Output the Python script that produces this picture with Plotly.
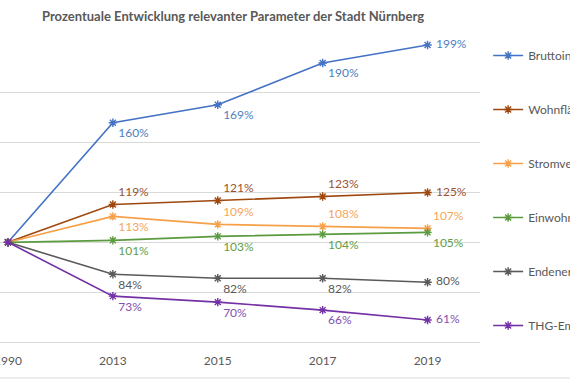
import plotly.graph_objects as go

years = ["1990", "2013", "2015", "2017", "2019"]
series_names = ["Bruttoinlandsprodukt", "Wohnfläche", "Stromverbrauch",
                "Einwohner", "Endenergieverbrauch", "THG-Emissionen"]
bip = [100, 160, 169, 190, 199]
wohnflaeche = [100, 119, 121, 123, 125]
strom = [100, 113, 109, 108, 107]
einwohner = [100, 101, 103, 104, 105]
endenergie = [100, 84, 82, 82, 80]
thg = [100, 73, 70, 66, 61]

values = [bip, wohnflaeche, strom, einwohner, endenergie, thg]
line_colors = ["#4472C4", "#9E480E", "#F7A04A", "#5B9B3F", "#5A5A5A", "#7431A6"]
label_colors = ["#4F7FC0", "#9A5230", "#F4A65C", "#62A048", "#595959", "#8250B0"]
positions = [
    ["middle right", "bottom right", "bottom right", "bottom right", "middle right"],
    ["middle right", "top right", "top right", "top right", "middle right"],
    ["middle right", "bottom right", "top right", "top right", "top right"],
    ["middle right", "bottom right", "bottom right", "bottom right", "bottom right"],
    ["middle right", "bottom right", "bottom right", "bottom right", "middle right"],
    ["middle right", "bottom right", "bottom right", "bottom right", "middle right"],
]

FONT = "Lato"
fig = go.Figure()
for i, (name, vals) in enumerate(zip(series_names, values)):
    labels = []
    for j, v in enumerate(vals):
        if j == 0:
            labels.append("")
        elif positions[i][j] == "middle right":
            labels.append(f"\u00a0{v}%")
        else:
            labels.append(f"{v}%")
    fig.add_trace(go.Scatter(
        x=years, y=vals, name=name, legendgroup=name,
        mode="lines+markers+text",
        line=dict(color=line_colors[i], width=1.6),
        marker=dict(symbol="asterisk-open", size=7,
                    line=dict(color=line_colors[i], width=1.4)),
        text=labels,
        textposition=positions[i],
        textfont=dict(family=FONT, size=12, color=label_colors[i]),
        cliponaxis=False,
        hoverinfo="skip",
    ))

fig.update_layout(
    width=570, height=380,
    margin=dict(l=0, r=90, t=43, b=38, autoexpand=False),
    paper_bgcolor="white", plot_bgcolor="white",
    hovermode=False,
    title=dict(text="<b>Prozentuale Entwicklung relevanter Parameter der Stadt Nürnberg</b>",
               x=233 / 570, xanchor="center", y=1 - 16 / 380, yanchor="middle",
               yref="container",
               font=dict(family=FONT, size=13, color="#595959")),
    xaxis=dict(type="category", range=[-0.076, 4.5], showgrid=False,
               showline=True, linecolor="#D9D9D9", linewidth=1,
               ticks="", ticklabelstandoff=8,
               tickfont=dict(family=FONT, size=12, color="#595959"),
               zeroline=False),
    yaxis=dict(range=[50, 200], dtick=25, showticklabels=False,
               showgrid=True, gridcolor="#D9D9D9", gridwidth=1,
               zeroline=False, showline=False),
    showlegend=True,
    legend=dict(x=1.017, xanchor="left", y=1 + 2 / 299, yanchor="top",
                maxheight=380,
                tracegroupgap=35, bgcolor="rgba(0,0,0,0)",
                font=dict(family=FONT, size=12, color="#595959")),
    shapes=[dict(type="line", xref="paper", yref="paper", x0=0, x1=570 / 480,
                 y0=-36 / 299, y1=-36 / 299, line=dict(color="#D9D9D9", width=1))],
)

fig.write_html("out.html",
               config={"displayModeBar": False},
               post_script="document.body.style.margin='0';document.body.style.overflow='hidden';")
